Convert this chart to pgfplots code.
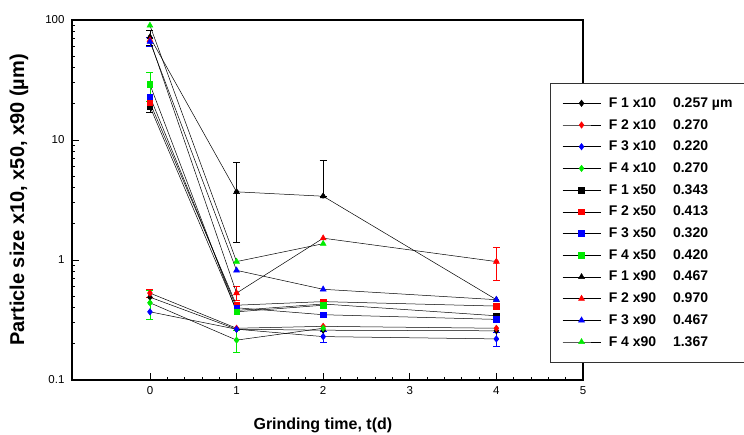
\documentclass[border=0pt]{standalone}
\usepackage{pgfplots}
\pgfplotsset{compat=1.18}
\usepackage{fontspec}
\setmainfont{Liberation Sans}
\definecolor{mred}{RGB}{255,0,0}
\definecolor{mblue}{RGB}{0,0,255}
\definecolor{mgreen}{RGB}{0,235,0}

% thin black line, coloured marks
\pgfplotsset{
  ser/.style 2 args={black, line width=0.5pt, mark=#1,
    mark options={solid, fill=#2, draw=#2}},
  errb/.style={forget plot, only marks, mark=none, #1,
    error bars/.cd, y dir=both, y explicit,
    error bar style={#1, line width=0.6pt},
    error mark options={#1, rotate=90, mark size=3.5pt, line width=0.6pt}},
}

\begin{document}
\begin{tikzpicture}
\path[use as bounding box] (-72pt,-54pt) rectangle (672pt,380pt);
\begin{axis}[
  at={(0pt,0pt)}, anchor=south west,
  scale only axis, width=511pt, height=360pt,
  ymode=log, ymin=0.1, ymax=100,
  xmin=-0.9, xmax=5,
  xtick={0,1,2,3,4,5}, xticklabels={0,1,2,3,4,5},
  minor x tick num=4,
  ytick={0.1,1,10,100}, yticklabels={0.1,1,10,100},
  axis line style={line width=1.4pt},
  tick style={black, line width=0.8pt},
  major tick length=7pt, minor tick length=3.5pt,
  tick pos=left, tick align=inside,
  ticklabel style={font=\fontsize{11.5}{13}\selectfont},
  xticklabel style={yshift=-3pt},
  yticklabel style={xshift=-4pt},
  xlabel={\bfseries Grinding time, t(d)},
  ylabel={\bfseries Particle size x10, x50, x90 (µm)},
  xlabel style={font=\fontsize{16}{18}\selectfont,
    at={(axis description cs:0.491,-0.125)}, anchor=center},
  ylabel style={font=\fontsize{20}{22}\selectfont,
    at={(axis description cs:-0.104,0.5)}, anchor=center},
  legend style={at={(axis description cs:0.9354,0.825)}, anchor=north west,
    draw=black!80, line width=0.6pt, inner xsep=12pt, inner ysep=14pt,
    font=\bfseries\fontsize{14}{16}\selectfont,
    nodes={inner sep=0pt, text height=10pt, text depth=2pt},
    row sep=9.7pt, column sep=8pt},
  legend cell align=left,
  legend image code/.code={\draw[mark repeat=2, mark phase=2, #1]
    plot coordinates {(0pt,0pt) (19pt,0pt) (38pt,0pt)};},
]
% error bars
\addplot[errb=black] coordinates {(0,19) +- (0,2) (0,72) +- (0,10)
  (1,3.7) += (0,2.8) -= (0,2.3) (2,3.4) += (0,3.4) -= (0,0)};
\addplot[errb=mred] coordinates {(0,0.53) +- (0,0.04) (1,0.53) +- (0,0.07) (4,0.97) += (0,0.3) -= (0,0.29)};
\addplot[errb=mblue] coordinates {(0,66) +- (0,6) (2,0.23) +- (0,0.025) (4,0.22) +- (0,0.028)};
\addplot[errb=mgreen] coordinates {(0,29) +- (0,8) (0,0.44) +- (0,0.12) (1,0.215) +- (0,0.045)};

% x10
\addplot[ser={diamond*}{black}, mark size=3.2pt] coordinates {(0,0.49) (1,0.265) (2,0.26) (4,0.257)};
\addlegendentry{F 1 x10\hspace{1.2em}0.257 µm\hspace{10pt}}
\addplot[ser={diamond*}{mred}, mark size=3.2pt] coordinates {(0,0.53) (1,0.27) (2,0.28) (4,0.27)};
\addlegendentry{F 2 x10\hspace{1.2em}0.270}
\addplot[ser={diamond*}{mblue}, mark size=3.2pt] coordinates {(0,0.37) (1,0.265) (2,0.23) (4,0.22)};
\addlegendentry{F 3 x10\hspace{1.2em}0.220}
\addplot[ser={diamond*}{mgreen}, mark size=3.2pt] coordinates {(0,0.44) (1,0.215) (2,0.27)};
\addlegendentry{F 4 x10\hspace{1.2em}0.270}
% x50
\addplot[ser={square*}{black}, mark size=2.8pt] coordinates {(0,19) (1,0.38) (2,0.43) (4,0.343)};
\addlegendentry{F 1 x50\hspace{1.2em}0.343}
\addplot[ser={square*}{mred}, mark size=2.8pt] coordinates {(0,20.5) (1,0.42) (2,0.45) (4,0.413)};
\addlegendentry{F 2 x50\hspace{1.2em}0.413}
\addplot[ser={square*}{mblue}, mark size=2.8pt] coordinates {(0,23) (1,0.40) (2,0.35) (4,0.32)};
\addlegendentry{F 3 x50\hspace{1.2em}0.320}
\addplot[ser={square*}{mgreen}, mark size=2.8pt] coordinates {(0,29) (1,0.37) (2,0.42)};
\addlegendentry{F 4 x50\hspace{1.2em}0.420}
% x90
\addplot[ser={triangle*}{black}, mark size=3.4pt] coordinates {(0,72) (1,3.7) (2,3.4) (4,0.467)};
\addlegendentry{F 1 x90\hspace{1.2em}0.467}
\addplot[ser={triangle*}{mred}, mark size=3.4pt] coordinates {(0,68) (1,0.53) (2,1.52) (4,0.97)};
\addlegendentry{F 2 x90\hspace{1.2em}0.970}
\addplot[ser={triangle*}{mblue}, mark size=3.4pt] coordinates {(0,66) (1,0.82) (2,0.57) (4,0.467)};
\addlegendentry{F 3 x90\hspace{1.2em}0.467}
\addplot[ser={triangle*}{mgreen}, mark size=3.4pt] coordinates {(0,90) (1,0.97) (2,1.367)};
\addlegendentry{F 4 x90\hspace{1.2em}1.367}
\end{axis}
\end{tikzpicture}
\end{document}
